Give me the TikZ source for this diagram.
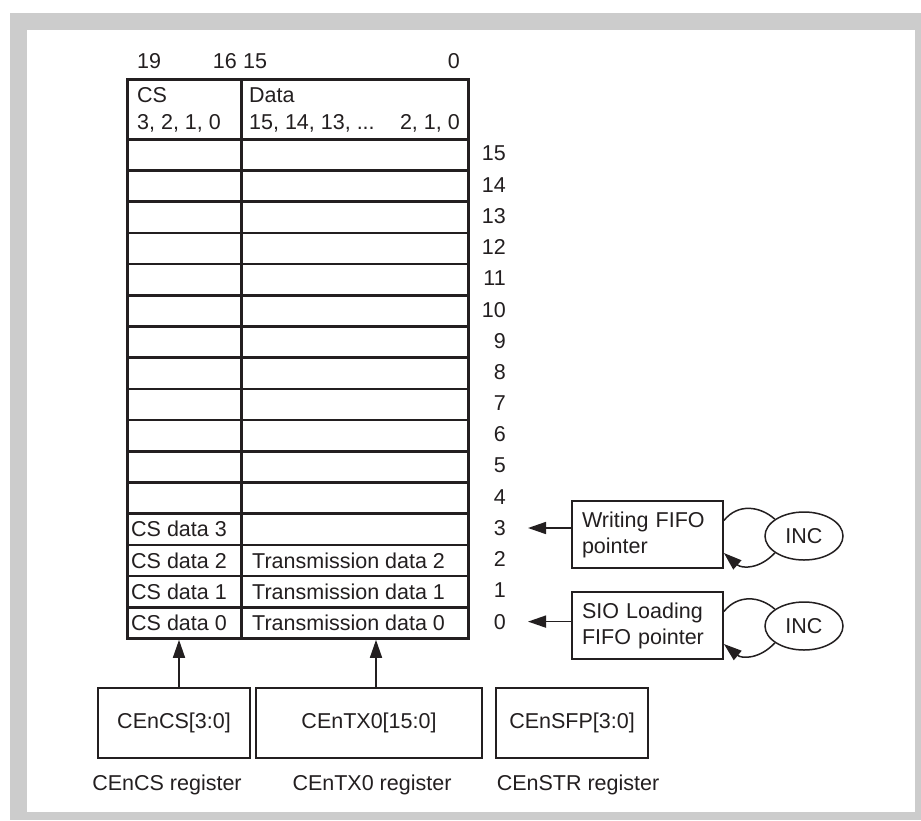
\documentclass[tikz,border=0pt]{standalone}
\usepackage{fontspec}
\setmainfont{Liberation Sans}
\usetikzlibrary{arrows.meta,shapes.geometric}
\definecolor{ink}{HTML}{231F20}
\definecolor{framegray}{HTML}{CCCCCC}
\begin{document}
\begin{tikzpicture}[x=1pt,y=-1pt,
  font=\fontsize{21.5}{26}\selectfont,
  every node/.style={text=ink},
  lbl/.style={inner sep=0pt},
  cellbox/.style={draw=ink, line width=2.6pt, minimum height=31.2pt, inner sep=0pt, anchor=north west},
  cscell/.style={cellbox, minimum width=114pt},
  datcell/.style={cellbox, minimum width=227pt},
  rowlab/.style={lbl, anchor=east},
  regbox/.style={draw=ink, line width=1.8pt, inner sep=0pt, minimum height=70pt},
  ptrbox/.style={draw=ink, line width=1.8pt, inner ysep=0pt, inner xsep=10pt, text width=131pt, minimum height=67pt, align=left},
  incnode/.style={draw=ink, ellipse, line width=1.5pt, inner sep=0pt, minimum width=78pt, minimum height=48pt},
  arr/.style={draw=ink, line width=1.6pt, -{Triangle[length=18pt,width=12pt]}},
  loopline/.style={draw=ink, line width=1.5pt}
]
\useasboundingbox (0,0) rectangle (921,820);
\fill[framegray] (10,13) rectangle (921,820);
\fill[white] (27,30) rectangle (915,812);

% bit numbers
\node[lbl, anchor=base west] (b19) at (137,68) {19};
\node[lbl, anchor=base east] (b16) at (237,68) {16};
\node[lbl, anchor=base west] (b15) at (243,68) {15};
\node[lbl, anchor=base east] (b0) at (460,68) {0};

% header cells
\node[cscell, minimum height=60pt] (hcs) at (126,78) {};
\node[datcell, minimum height=60pt] (hd) at (240,78) {};
\node[lbl, anchor=base west] (tcs) at (137,102) {CS};
\node[lbl, anchor=base west] (tcsb) at (137,129) {3, 2, 1, 0};
\node[lbl, anchor=base west] (tdata) at (249,102) {Data};
\node[lbl, anchor=base west] (tdb) at (249,129) {15, 14, 13, ...};
\node[lbl, anchor=base east] (tdc) at (460,129) {2, 1, 0};

% rows
\foreach \i in {0,...,15} {
  \pgfmathsetmacro\yt{138+(15-\i)*31.2}
  \node[cscell] (c\i) at (126,\yt) {};
  \node[datcell] (d\i) at (240,\yt) {};
  \node[rowlab] (n\i) at (506,\yt+15.6) {\i};
}

\node[lbl, anchor=west] (cs3) at ([xshift=5pt]c3.west) {CS data 3};
\node[lbl, anchor=west] (cs2) at ([xshift=5pt]c2.west) {CS data 2};
\node[lbl, anchor=west] (cs1) at ([xshift=5pt]c1.west) {CS data 1};
\node[lbl, anchor=west] (cs0) at ([xshift=5pt]c0.west) {CS data 0};
\node[lbl, anchor=west] (td2) at ([xshift=12pt]d2.west) {Transmission data 2};
\node[lbl, anchor=west] (td1) at ([xshift=12pt]d1.west) {Transmission data 1};
\node[lbl, anchor=west] (td0) at ([xshift=12pt]d0.west) {Transmission data 0};

% pointer boxes
\node[ptrbox] (wf) at (647.5,534.5) {Writing FIFO\\pointer};
\node[ptrbox] (sio) at (647.5,625.5) {SIO Loading\\FIFO pointer};
\node[incnode] (inc1) at (804,536) {INC};
\node[incnode] (inc2) at (804,626) {INC};

\coordinate (t3) at ([xshift=22pt]n3.east);
\coordinate (t0) at ([xshift=22pt]n0.east);
\draw[arr] (wf.west |- t3) -- (t3);
\draw[arr] (sio.west |- t0) -- (t0);

\draw[loopline] ([yshift=14pt]wf.east) .. controls (738,503) and (760,506) .. (inc1.150);
\draw[arr, line width=1.5pt] (inc1.210) .. controls (760,569) and (742,569) .. ([yshift=-18.5pt]wf.east);
\draw[loopline] ([yshift=14pt]sio.east) .. controls (738,594) and (760,596) .. (inc2.150);
\draw[arr, line width=1.5pt] (inc2.210) .. controls (760,659) and (742,659) .. ([yshift=-18.5pt]sio.east);

% register boxes
\node[regbox, minimum width=152pt] (cencs) at (174,723) {CEnCS[3:0]};
\node[regbox, minimum width=226pt] (centx) at (369,723) {CEnTX0[15:0]};
\node[regbox, minimum width=152pt] (censfp) at (572,723) {CEnSFP[3:0]};
\node[lbl, anchor=base] (lcs) at (167,790) {CEnCS register};
\node[lbl, anchor=base] (ltx) at (372,790) {CEnTX0 register};
\node[lbl, anchor=base] (lstr) at (578,790) {CEnSTR register};

\coordinate (csx) at ([xshift=5pt]cencs.north);
\coordinate (txx) at ([xshift=7pt]centx.north);
\draw[arr] (csx) -- (csx |- c0.south);
\draw[arr] (txx) -- (txx |- d0.south);
\end{tikzpicture}
\end{document}
